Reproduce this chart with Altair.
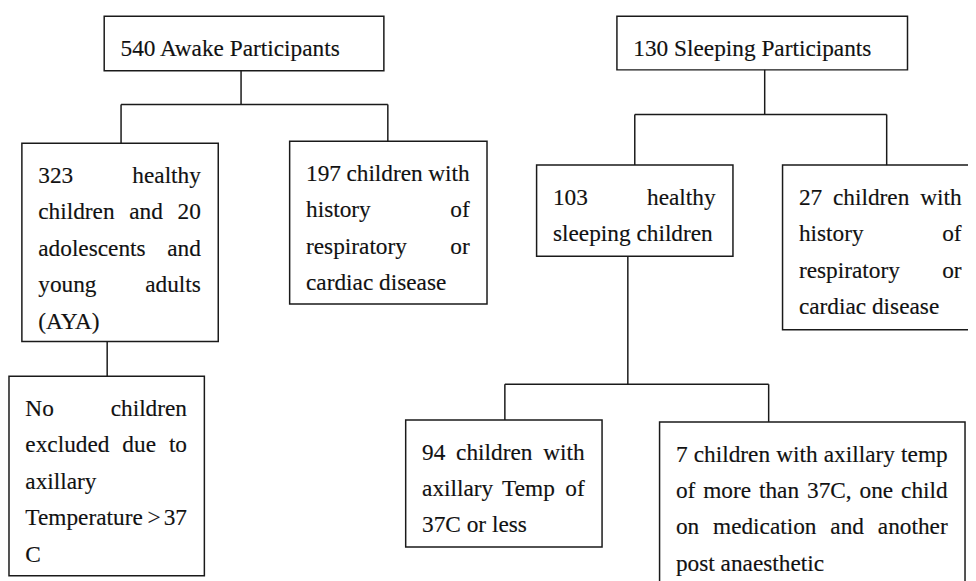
import altair as alt
import pandas as pd

# ---------------- content ----------------
box_ids = ["awake", "sleep", "healthy_awake", "resp_awake", "excluded_awake",
           "healthy_sleep", "resp_sleep", "temp_ok", "temp_high"]

box_lines = {
    "awake": ["540 Awake Participants"],
    "sleep": ["130 Sleeping Participants"],
    "healthy_awake": ["323 healthy", "children and 20", "adolescents and",
                      "young adults", "(AYA)"],
    "resp_awake": ["197 children with", "history of", "respiratory or",
                   "cardiac disease"],
    "excluded_awake": ["No children", "excluded due to", "axillary",
                       "Temperature > 37", "C"],
    "healthy_sleep": ["103 healthy", "sleeping children"],
    "resp_sleep": ["27 children with", "history of", "respiratory or",
                   "cardiac disease"],
    "temp_ok": ["94 children with", "axillary Temp of", "37C or less"],
    "temp_high": ["7 children with axillary temp", "of more than 37C, one child",
                  "on medication and another", "post anaesthetic"],
}
justified = {b: b not in ("awake", "sleep") for b in box_ids}

# ---------------- layout (reference pixel space) ----------------
layout = {  # x0, x1, y0, y1
    "awake": (105, 387, 14, 69),
    "sleep": (622, 915, 14, 68),
    "healthy_awake": (22, 220, 142, 342),
    "resp_awake": (292, 491, 140, 304),
    "excluded_awake": (9, 206, 377, 578),
    "healthy_sleep": (541, 739, 164, 256),
    "resp_sleep": (789, 987, 164, 330),
    "temp_ok": (409, 607, 421, 549),
    "temp_high": (665, 973, 423, 600),
}
connectors = [  # x, x2, y, y2
    (243, 243, 69, 103), (122, 391, 103, 103), (122, 122, 103, 142), (391, 391, 103, 140),
    (108, 108, 342, 377),
    (771, 771, 68, 113), (640, 894, 113, 113), (640, 640, 113, 164), (894, 894, 113, 164),
    (633, 633, 256, 385), (509, 775, 385, 385), (509, 509, 385, 421), (775, 775, 385, 423),
]
PAD_L, PAD_R = 16.5, 17.5
FIRST, STEP = 40, 36.7
FONT_SIZE = 23.5

# Times-compatible advance widths (per 1000 em) for word placement
CW = {' ': 250, '(': 333, ')': 333, ',': 250, '.': 250, '>': 564,
      'a': 444, 'b': 500, 'c': 444, 'd': 500, 'e': 444, 'f': 333, 'g': 500, 'h': 500,
      'i': 278, 'j': 278, 'k': 500, 'l': 278, 'm': 778, 'n': 500, 'o': 500, 'p': 500,
      'q': 500, 'r': 333, 's': 389, 't': 278, 'u': 500, 'v': 500, 'w': 722, 'x': 500,
      'y': 500, 'z': 444, 'A': 722, 'C': 667, 'N': 722, 'P': 556, 'S': 556, 'T': 611,
      'Y': 722}
for d in "0123456789":
    CW[d] = 500


def tw(s):
    return sum(CW.get(c, 500) for c in s) / 1000 * FONT_SIZE


rows = []
for b in box_ids:
    x0, x1, y0, y1 = layout[b]
    tl, tr = x0 + PAD_L, x1 - PAD_R
    lines = box_lines[b]
    for i, line in enumerate(lines):
        yb = y0 + FIRST + i * STEP
        words = line.split(" ")
        last = i == len(lines) - 1
        if not justified[b] or last or len(words) == 1:
            rows.append(dict(t=line, x=tl, y=yb, al="left"))
        else:
            widths = [tw(w) for w in words]
            gap = (tr - tl - sum(widths)) / (len(words) - 1)
            cx = tl
            for j, (w, wd) in enumerate(zip(words, widths)):
                if j == len(words) - 1:
                    rows.append(dict(t=w, x=tr, y=yb, al="right"))
                else:
                    rows.append(dict(t=w, x=cx, y=yb, al="left"))
                cx += wd + gap

boxes_df = pd.DataFrame([dict(id=b, x0=layout[b][0], x1=layout[b][1],
                              y0=layout[b][2], y1=layout[b][3]) for b in box_ids])
lines_df = pd.DataFrame([dict(x=a, x2=b, y=c, y2=d) for a, b, c, d in connectors])
text_df = pd.DataFrame(rows)

X = alt.Scale(domain=[8, 976], nice=False, zero=False)
Y = alt.Scale(domain=[8, 581], nice=False, zero=False, reverse=True)
INK = "#1a1a1a"

rects = alt.Chart(boxes_df).mark_rect(fill="white", stroke=INK, strokeWidth=1.5).encode(
    x=alt.X("x0:Q", scale=X, axis=None), x2="x1:Q",
    y=alt.Y("y0:Q", scale=Y, axis=None), y2="y1:Q")

rules = alt.Chart(lines_df).mark_rule(stroke=INK, strokeWidth=1.5).encode(
    x=alt.X("x:Q", scale=X, axis=None), x2="x2:Q",
    y=alt.Y("y:Q", scale=Y, axis=None), y2="y2:Q")

def text_layer(al):
    return alt.Chart(text_df).transform_filter(alt.datum.al == al).mark_text(
        font="Liberation Serif", fontSize=FONT_SIZE, align=al, baseline="alphabetic",
        color="#111111", stroke="#111111", strokeWidth=0.15).encode(
        x=alt.X("x:Q", scale=X, axis=None),
        y=alt.Y("y:Q", scale=Y, axis=None),
        text="t:N")

chart = alt.layer(rects, rules, text_layer("left"), text_layer("right")).properties(
    width=968, height=573, padding=0, autosize=alt.AutoSizeParams(type="none")
).configure_view(stroke=None)

chart.save("out.html", embed_options={"renderer": "svg", "actions": False})
